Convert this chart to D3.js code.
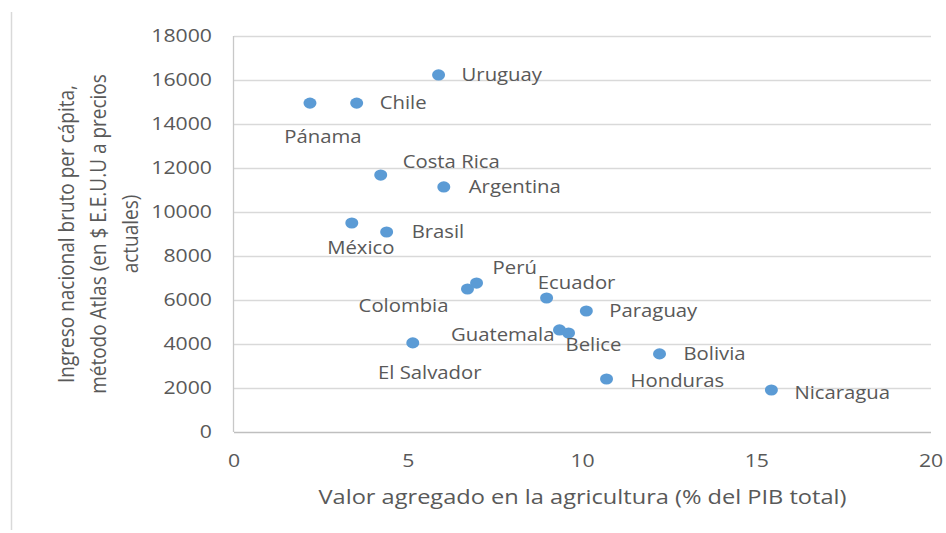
<!DOCTYPE html>
<html>
<head>
<meta charset="utf-8">
<script src="https://cdn.jsdelivr.net/npm/d3@7/dist/d3.min.js"></script>
<style>
  html, body { margin: 0; padding: 0; background: #ffffff; }
  svg { display: block; }
  text { font-family: "Open Sans", "DejaVu Sans", sans-serif; fill: #595959; }
</style>
</head>
<body>
<svg id="chart" width="946" height="533"></svg>
<script>
// ---- data ----
const countries = ["Uruguay","Chile","Pánama","Costa Rica","Argentina","México","Brasil","Perú","Colombia","Ecuador","Paraguay","Guatemala","Belice","El Salvador","Bolivia","Honduras","Nicaragua"];
const agriculture = [5.87, 3.52, 2.18, 4.21, 6.02, 3.38, 4.38, 6.96, 6.70, 8.97, 10.11, 9.34, 9.60, 5.13, 12.21, 10.69, 15.42];
const gniPerCapita = [16230, 14950, 14950, 11680, 11140, 9500, 9090, 6770, 6500, 6090, 5500, 4640, 4500, 4050, 3550, 2410, 1910];
const xTicks = [0, 5, 10, 15, 20];
const yTicks = [0, 2000, 4000, 6000, 8000, 10000, 12000, 14000, 16000, 18000];
const xTitle = "Valor agregado en la agricultura (% del PIB total)";
const yTitleLines = ["Ingreso nacional bruto per cápita,", "método Atlas (en $ E.E.U.U a precios", "actuales)"];

// ---- label layout (offsets from the point, anchor) ----
const labelLayout = [
  [23, 0, "start"], [23, 0, "start"], [13, 34, "middle"], [22, -13, "start"],
  [25, 0, "start"], [9, 25, "middle"], [25, 0, "start"], [16, -15, "start"],
  [-19, 17, "end"], [30, -15, "middle"], [23, 0, "start"], [-5, 5, "end"],
  [-3, 12, "start"], [17, 30, "middle"], [24, 0, "start"], [24, 2, "start"],
  [23, 3, "start"]
];

const SX = 1.16;       // horizontal stretch of the original picture
const FS = 17.5;       // data label size
const TICK_FS = 18.3;
const TITLE_FS = 20;

const svg = d3.select("#chart");
const x = d3.scaleLinear().domain([0, 20]).range([234, 931]);
const y = d3.scaleLinear().domain([0, 18000]).range([432, 36]);

// outer left border
svg.append("line").attr("x1", 11.5).attr("x2", 11.5).attr("y1", 12).attr("y2", 530)
  .attr("stroke", "#d9d9d9").attr("stroke-width", 1.5);

// gridlines
svg.append("g").selectAll("line").data(yTicks.filter(d => d > 0)).join("line")
  .attr("x1", x(0)).attr("x2", x(20))
  .attr("y1", d => Math.round(y(d)) + 0.5).attr("y2", d => Math.round(y(d)) + 0.5)
  .attr("stroke", "#d9d9d9").attr("stroke-width", 1.3);

// axis lines
svg.append("line").attr("x1", Math.round(x(0)) - 0.5).attr("x2", Math.round(x(0)) - 0.5)
  .attr("y1", y(18000)).attr("y2", y(0)).attr("stroke", "#c8c8c8").attr("stroke-width", 1.3);
svg.append("line").attr("x1", x(0)).attr("x2", x(20))
  .attr("y1", Math.round(y(0)) + 0.5).attr("y2", Math.round(y(0)) + 0.5)
  .attr("stroke", "#bfbfbf").attr("stroke-width", 1.5);

function stretchedText(g, tx, ty, str, anchor, size, sx) {
  return g.append("text")
    .attr("transform", `translate(${tx},${ty}) scale(${sx || SX},1)`)
    .attr("text-anchor", anchor)
    .attr("dy", "0.35em")
    .style("font-size", size + "px")
    .text(str);
}

// y tick labels
const yg = svg.append("g");
yTicks.forEach(t => stretchedText(yg, 212, y(t), d3.format("d")(t), "end", TICK_FS));
// x tick labels
const xg = svg.append("g");
xTicks.forEach(t => stretchedText(xg, x(t), 461, d3.format("d")(t), "middle", TICK_FS));

// axis titles
stretchedText(svg, (x(0) + x(20)) / 2, 497, xTitle, "middle", TITLE_FS, 1.18);
const yt = svg.append("g");
yTitleLines.forEach((line, i) => {
  yt.append("text")
    .attr("transform", `translate(${66 + i * 32},${(y(0) + y(18000)) / 2}) rotate(-90) scale(1,${SX})`)
    .attr("text-anchor", "middle")
    .attr("dy", "0.35em")
    .style("font-size", "19px")
    .text(line);
});

// points
const data = countries.map((c, i) => ({ c, a: agriculture[i], g: gniPerCapita[i], l: labelLayout[i] }));
svg.append("g").selectAll("ellipse").data(data).join("ellipse")
  .attr("cx", d => x(d.a)).attr("cy", d => y(d.g))
  .attr("rx", 6.5).attr("ry", 5.6)
  .attr("fill", "#5b9bd5");

// labels
const lg = svg.append("g");
data.forEach(d => stretchedText(lg, x(d.a) + d.l[0], y(d.g) + d.l[1], d.c, d.l[2], FS));
</script>
</body>
</html>
